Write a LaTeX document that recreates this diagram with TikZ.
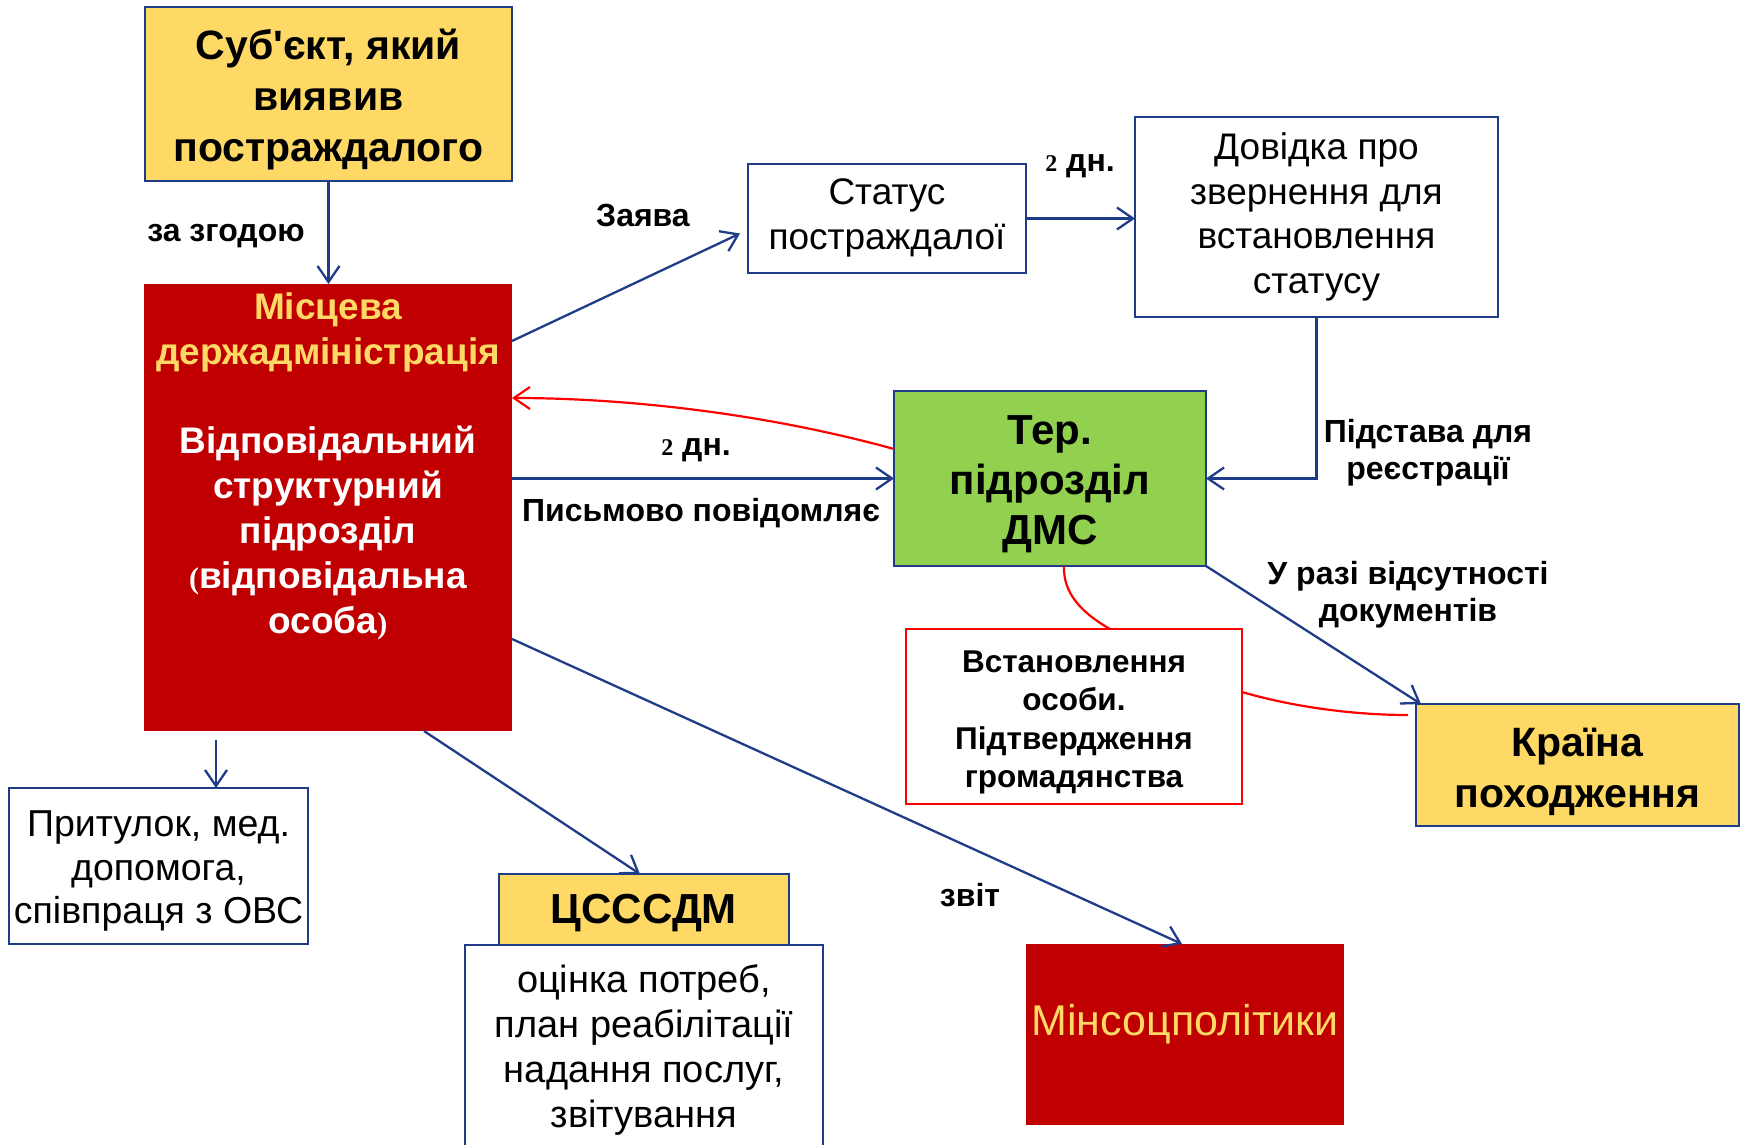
\documentclass[tikz,border=0pt]{standalone}
\usepackage{fontspec}
\setmainfont{Liberation Sans}
\newfontfamily\tnr{Liberation Serif}
\newfontfamily\nomap{Liberation Sans}[Ligatures=TeXOff]
\usetikzlibrary{arrows.meta,calc}
\definecolor{bordblue}{HTML}{1F3C88}
\definecolor{boxyellow}{HTML}{FFD966}
\definecolor{darkred}{HTML}{C00000}
\definecolor{dmsgreen}{HTML}{92D050}
\definecolor{lred}{HTML}{FF0000}
\begin{document}
\begin{tikzpicture}[x=0.5pt,y=-0.5pt,
  box/.style={draw=bordblue, line width=1.2pt, inner sep=0pt, outer sep=0pt},
  redbox/.style={fill=darkred, draw=none, inner sep=0pt, outer sep=0pt},
  txt/.style={align=center, inner sep=0pt},
  arr/.style={draw=bordblue, line width=1.15pt, -{Straight Barb[length=8pt,width=11pt,line width=1.15pt]}},
  redarr/.style={draw=lred, line width=1.1pt, -{Straight Barb[length=8pt,width=11pt,line width=1.1pt]}},
  redline/.style={draw=lred, line width=1.1pt},
  lbl/.style={font=\fontsize{16}{18.75}\selectfont\bfseries, align=center, inner sep=0pt},
]
\useasboundingbox (0,0) rectangle (1746,1145);

% boxes
\node[box, fill=boxyellow, minimum width=183.5pt, minimum height=87pt] (subj) at (328.5,94) {};
\node[redbox, minimum width=184pt, minimum height=223.5pt] (red) at (328,507.5) {};
\node[box, fill=white, minimum width=139pt, minimum height=54.5pt] (status) at (887,218.5) {};
\node[box, fill=white, minimum width=181.5pt, minimum height=100pt] (dov) at (1316.5,217) {};
\node[box, fill=dmsgreen, minimum width=156pt, minimum height=87.5pt] (dms) at (1050,478.5) {};
\node[draw=lred, line width=1.2pt, fill=white, inner sep=0pt, outer sep=0pt, minimum width=168pt, minimum height=87.5pt] (vst) at (1074,716.5) {};
\node[box, fill=boxyellow, minimum width=161.5pt, minimum height=61pt] (kr) at (1577.5,765) {};
\node[box, fill=white, minimum width=149.5pt, minimum height=78pt] (prit) at (158.5,866) {};
\node[box, fill=white, minimum width=179pt, minimum height=102.5pt] (ocin) at (644,1047.5) {};
\node[box, fill=boxyellow, minimum width=145pt, minimum height=35.5pt] (cs) at (644,909.5) {};
\node[redbox, minimum width=159pt, minimum height=90.5pt] (min) at (1185,1034.5) {};

% box texts
\node[txt, font=\fontsize{20.5}{25.5}\selectfont\bfseries] (subjt) at (328.5,99) {Суб{\nomap\bfseries '}єкт, який\\виявив\\постраждалого};
\node[txt, text=boxyellow, font=\fontsize{18.5}{22.5}\selectfont\bfseries] (redt1) at (328,332) {Місцева\\держадміністрація};
\node[txt, text=white, font=\fontsize{18.5}{22.5}\selectfont\bfseries] (redt2) at (328,532.5) {Відповідальний\\структурний\\підрозділ\\{\tnr\fontsize{15}{15}\selectfont(}відповідальна\\особа{\tnr\fontsize{15}{15}\selectfont)}};
\node[txt, font=\fontsize{18.5}{22.5}\selectfont] (statust) at (887,217.5) {Статус\\постраждалої};
\node[txt, font=\fontsize{18.5}{22.2}\selectfont] (dovt) at (1316.5,217) {Довідка про\\звернення для\\встановлення\\статусу};
\node[txt, font=\fontsize{21}{25}\selectfont\bfseries] (dmst) at (1050,484) {Тер.\\підрозділ\\ДМС};
\node[txt, font=\fontsize{15.75}{19.25}\selectfont\bfseries] (vstt) at (1074,722.5) {Встановлення\\особи.\\Підтвердження\\громадянства};
\node[txt, font=\fontsize{20.5}{25.5}\selectfont\bfseries] (krt) at (1577.5,771.5) {Країна\\походження};
\node[txt, font=\fontsize{18.75}{21.75}\selectfont] (pritt) at (158.5,871) {Притулок, мед.\\допомога,\\співпраця з ОВС};
\node[txt, font=\fontsize{21}{25}\selectfont\bfseries] (cst) at (644,913.5) {ЦСССДМ};
\node[txt, font=\fontsize{19}{22.5}\selectfont] (ocint) at (644,1050) {оцінка потреб,\\план реабілітації\\надання послуг,\\звітування};
\node[txt, text=boxyellow, font=\fontsize{21.5}{26}\selectfont] (mint) at (1185,1024.5) {Мінсоцполітики};

% labels
\node[lbl] (l1) at (226,236.5) {за згодою};
\node[lbl] (l2) at (643,215) {Заява};
\node[lbl] (l3) at (1080,166.5) {{\tnr\fontsize{12}{12}\selectfont 2} дн.};
\node[lbl] (l4) at (696,450.5) {{\tnr\fontsize{12}{12}\selectfont 2} дн.};
\node[lbl] (l5) at (701,513.5) {Письмово повідомляє};
\node[lbl] (l6) at (1428,452.5) {Підстава для\\реєстрації};
\node[lbl] (l7) at (1408,594.5) {У разі відсутності\\документів};
\node[lbl] (l8) at (970,895) {звіт};

% connectors
\coordinate (pritstart) at ($(red.south west)+(72,9)$);
\draw[arr] (subj.south) -- (subj.south |- red.north);
\draw[arr] ($(red.north east)+(0,57)$) -- ($(status.west)+(-8,15)$);
\draw[arr] (status.east) -- (status.east -| dov.west);
\draw[arr] (dov.south) |- (dms.east);
\draw[arr] (red.east |- dms.west) -- (dms.west);
\draw[redarr] ($(dms.north west)+(0,58)$) .. controls (760,412) and (620,398) .. ($(red.north east)+(0,114)$);
\draw[redline] ($(dms.south west)+(170,0)$) .. controls (1063,592) and (1080,612) .. ($(vst.north west)+(204,0)$);
\draw[redline] ($(vst.north east)+(0,63)$) .. controls (1290,706) and (1350,715) .. ($(kr.north west)+(-8,11)$);
\draw[arr] (dms.south east) -- ($(kr.north west)+(5,0)$);
\draw[arr] (pritstart) -- (pritstart |- prit.north);
\draw[arr] ($(red.south west)+(280,0)$) -- ($(cs.north)+(-4,0)$);
\draw[arr] ($(red.north east)+(0,355)$) -- ($(min.north)+(-3,0)$);
\end{tikzpicture}
\end{document}
